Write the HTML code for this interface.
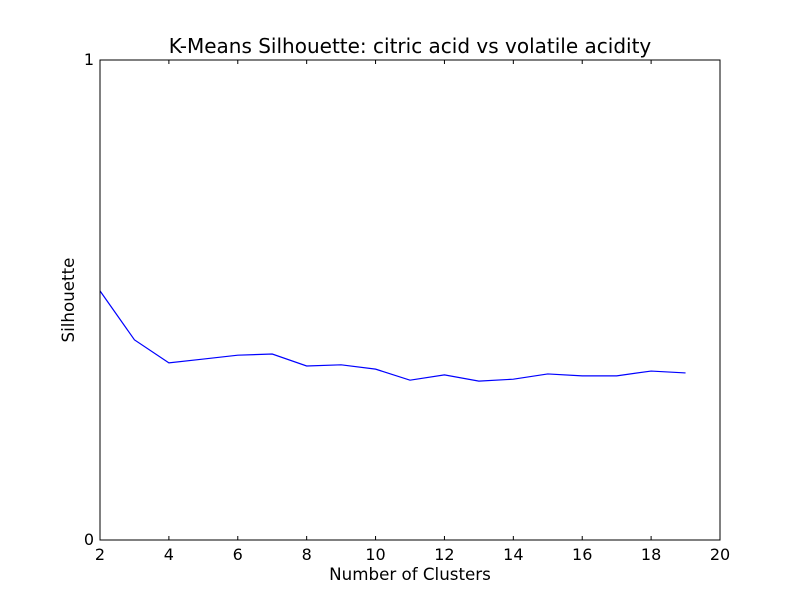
<!DOCTYPE html>
<html><head><meta charset="utf-8"><style>
body{margin:0;background:#fff;}
svg text{font-family:"DejaVu Sans","Liberation Sans",sans-serif;}
</style></head><body>
<svg id="chart" width="800" height="600" xmlns="http://www.w3.org/2000/svg">
<rect width="800" height="600" fill="#fff"/>
<text x="410" y="53" font-size="20" text-anchor="middle">K-Means Silhouette: citric acid vs volatile acidity</text>
<text x="410" y="580" font-size="16.7" text-anchor="middle">Number of Clusters</text>
<text x="74" y="300" font-size="16.7" text-anchor="middle" transform="rotate(-90 74 300)">Silhouette</text>
<g id="ticks"></g>
<polyline id="line" fill="none" stroke="#0000ff" stroke-width="1.2"/>
<rect x="100" y="60" width="620" height="480" fill="none" stroke="#000" stroke-width="1"/>
</svg>
<script>
const clusters=[2,3,4,5,6,7,8,9,10,11,12,13,14,15,16,17,18,19];
const silhouette=[0.519,0.417,0.369,0.377,0.385,0.3875,0.3625,0.365,0.356,0.333,0.344,0.331,0.335,0.346,0.342,0.342,0.352,0.348];
const xTicks=[2,4,6,8,10,12,14,16,18,20];
const yTicks=[0,1];
const X0=100,X1=720,Y0=540,Y1=60;
const xs=v=>X0+(v-2)/(20-2)*(X1-X0);
const ys=v=>Y0-(v-0)/(1-0)*(Y0-Y1);
const ns="http://www.w3.org/2000/svg";
const line=document.getElementById('line');
line.setAttribute('points',clusters.map((c,i)=>xs(c)+','+ys(silhouette[i])).join(' '));
const g=document.getElementById('ticks');
function mk(tag,attrs,txt){const e=document.createElementNS(ns,tag);for(const k in attrs)e.setAttribute(k,attrs[k]);if(txt!==undefined)e.textContent=txt;g.appendChild(e);return e;}
xTicks.forEach(t=>{const x=xs(t);
const a=mk('line',{x1:x,x2:x,y1:Y0,y2:Y0-4,stroke:'#000'});


const b=mk('line',{x1:x,x2:x,y1:Y1,y2:Y1+4,stroke:'#000'});


const l=mk('text',{x:x,y:Y0+20,'font-size':16,'text-anchor':'middle'},String(t));

});
yTicks.forEach(t=>{const y=ys(t);
const a=mk('line',{x1:X0,x2:X0+4,y1:y,y2:y,stroke:'#000'});


const b=mk('line',{x1:X1,x2:X1-4,y1:y,y2:y,stroke:'#000'});


const l=mk('text',{x:X0-6,y:y+5,'font-size':16,'text-anchor':'end'},String(t));

});
</script>
</body></html>
